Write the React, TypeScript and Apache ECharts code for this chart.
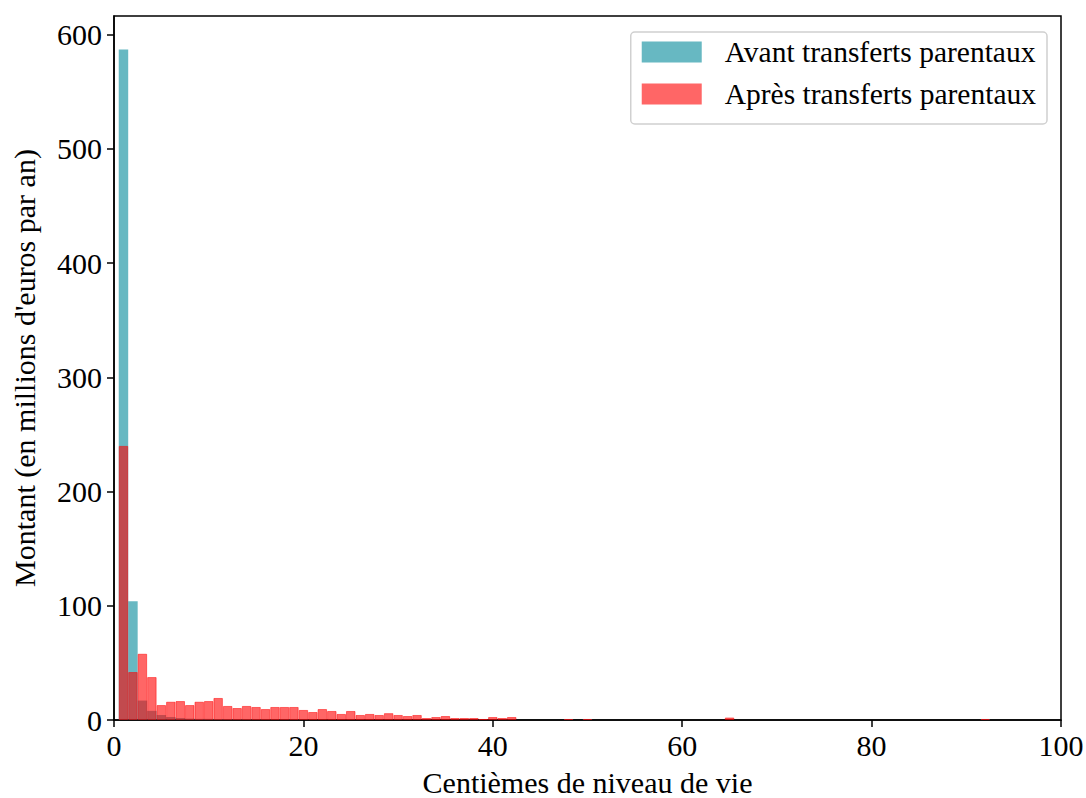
import React, { useEffect, useRef } from "react";
import * as echarts from "echarts";

// Centile positions (x) 1..100
const centiles: number[] = [
  1, 2, 3, 4, 5, 6, 7, 8, 9, 10, 11, 12, 13, 14, 15, 16, 17, 18, 19, 20,
  21, 22, 23, 24, 25, 26, 27, 28, 29, 30, 31, 32, 33, 34, 35, 36, 37, 38, 39, 40,
  41, 42, 43, 44, 45, 46, 47, 48, 49, 50, 51, 52, 53, 54, 55, 56, 57, 58, 59, 60,
  61, 62, 63, 64, 65, 66, 67, 68, 69, 70, 71, 72, 73, 74, 75, 76, 77, 78, 79, 80,
  81, 82, 83, 84, 85, 86, 87, 88, 89, 90, 91, 92, 93, 94, 95, 96, 97, 98, 99, 100,
];

// Avant transferts parentaux
const avant: number[] = [
  587, 104, 17, 8, 4.4, 2.6, 1.75, 1.2, 1.0, 1.0,
  0.9, 0.8, 0.7, 0.7, 0.6, 0.6, 0.5, 0.5, 0.5, 0.4,
  0.3, 0.3, 0.3, 0.3, 0.3, 0.3, 0.3, 0.3, 0.3, 0.3,
  0.2, 0.2, 0.2, 0.2, 0.2, 0.2, 0.2, 0.2, 0.2, 0.2,
  0.2, 0.2, 0, 0, 0, 0, 0, 0.7, 0, 0.7,
  0, 0, 0, 0, 0, 0, 0, 0, 0, 0,
  0, 0, 0, 0, 0, 0, 0, 0, 0, 0,
  0, 0, 0, 0, 0, 0, 0, 0, 0, 0,
  0, 0, 0, 0, 0, 0, 0, 0, 0, 0,
  0, 0.7, 0, 0, 0, 0, 0, 0, 0, 0,
];

// Après transferts parentaux
const apres: number[] = [
  240, 42, 58, 37.6, 13.1, 16, 16.6, 13.1, 16, 16.6,
  19.3, 12.3, 10.5, 12.3, 11.4, 9.6, 11.4, 11.4, 11.4, 8.8,
  7.0, 9.6, 7.9, 5.3, 7.9, 4.4, 5.3, 4.4, 6.0, 4.4,
  3.5, 4.4, 1.75, 2.6, 3.5, 1.75, 1.75, 1.75, 0.9, 2.6,
  1.75, 2.6, 0, 0, 0, 0, 0, 0.9, 0, 0.9,
  0, 0, 0, 0, 0, 0, 0, 0, 0, 0,
  0, 0, 0, 0, 2.2, 0, 0, 0, 0, 0,
  0, 0, 0, 0, 0, 0, 0, 0, 0, 0,
  0, 0, 0, 0, 0, 0, 0, 0, 0, 0,
  0, 0.9, 0, 0, 0, 0, 0, 0, 0, 0,
];

const yTicks: number[] = [0, 100, 200, 300, 400, 500, 600];
const xTicks: number[] = [0, 20, 40, 60, 80, 100];

const seriesNames = ["Avant transferts parentaux", "Après transferts parentaux"];
const xTitle = "Centièmes de niveau de vie";
const yTitle = "Montant (en millions d'euros par an)";

const FONT = "Liberation Serif";

export default function App() {
  const ref = useRef<HTMLDivElement>(null);
  useEffect(() => {
    if (!ref.current) return;
    const chart = echarts.init(ref.current, undefined, { renderer: "svg" });
    const axisText = { fontFamily: FONT, fontSize: 30, color: "#000" };
    const toPairs = (vals: number[]) =>
      centiles.map((c, i) => (vals[i] > 0 ? [c, vals[i]] : [c, "-"]));
    chart.setOption({
      animation: false,
      backgroundColor: "#fff",
      grid: {
        left: 114,
        top: 16,
        width: 947,
        height: 704,
        show: true,
        borderColor: "#000",
        borderWidth: 1.5,
        backgroundColor: "transparent",
        outerBoundsMode: "none",
        containLabel: false,
      },
      legend: {
        right: 39,
        top: 32,
        orient: "vertical",
        padding: [5, 11, 15, 11],
        itemWidth: 60,
        itemHeight: 21,
        itemGap: 12,
        icon: "rect",
        borderColor: "#d0d0d0",
        borderWidth: 1.5,
        borderRadius: 4,
        backgroundColor: "rgba(255,255,255,0.8)",
        itemStyle: { borderWidth: 0 },
        textStyle: {
          fontFamily: FONT,
          fontSize: 29.5,
          lineHeight: 30,
          color: "#000",
          padding: [0, 0, 0, 18],
        },
        data: seriesNames,
      },
      xAxis: {
        type: "value",
        min: 0,
        max: 100,
        interval: 20,
        name: xTitle,
        nameLocation: "middle",
        nameGap: 50,
        nameTextStyle: { fontFamily: FONT, fontSize: 30, lineHeight: 24, color: "#000" },
        axisLine: { show: true, lineStyle: { color: "#000", width: 1.5 } },
        axisTick: { show: true, inside: false, length: 7, lineStyle: { color: "#000", width: 1.5 }, customValues: xTicks },
        axisLabel: { ...axisText, margin: 10, customValues: xTicks },
        splitLine: { show: false },
      },
      yAxis: {
        type: "value",
        min: 0,
        max: 616.4,
        name: yTitle,
        nameLocation: "middle",
        nameGap: 75,
        nameTextStyle: { fontFamily: FONT, fontSize: 30, color: "#000" },
        axisLine: { show: true, lineStyle: { color: "#000", width: 1.5 } },
        axisTick: { show: true, inside: false, length: 7, lineStyle: { color: "#000", width: 1.5 }, customValues: yTicks },
        axisLabel: { ...axisText, margin: 12, customValues: yTicks },
        splitLine: { show: false },
      },
      series: [
        {
          name: seriesNames[0],
          type: "bar",
          barWidth: "100%",
          barGap: "-100%",
          itemStyle: { color: "rgba(1,137,153,0.6)" },
          data: toPairs(avant),
        },
        {
          name: seriesNames[1],
          type: "bar",
          barWidth: "100%",
          barGap: "-100%",
          itemStyle: {
            color: "rgba(255,0,0,0.6)",
            borderColor: "rgba(255,0,0,0.5)",
            borderWidth: 1,
          },
          data: toPairs(apres),
        },
      ],
    });
    return () => chart.dispose();
  }, []);
  return (
    <div
      ref={ref}
      style={{ position: "fixed", left: 0, top: 0, width: 1086, height: 798 }}
    />
  );
}
